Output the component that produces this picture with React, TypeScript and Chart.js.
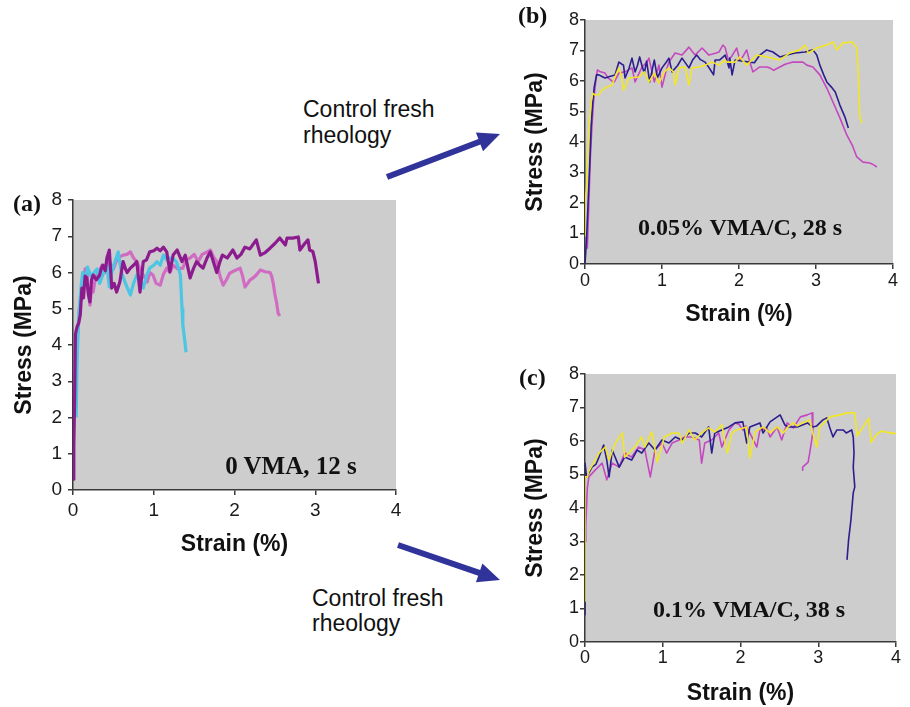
import React, { useEffect, useRef } from "react";
import { Chart, registerables } from "chart.js";
Chart.register(...registerables);

type Pt = [number, number];

// ---------- tick labels / axis titles ----------
const xTicks = [0, 1, 2, 3, 4];
const yTicks = [0, 1, 2, 3, 4, 5, 6, 7, 8];
const xTitle = "Strain (%)";
const yTitle = "Stress (MPa)";

// ---------- panel (a): 0 VMA, 12 s ----------
const aPurple: Pt[] = [
  [0.0, 0.3], [0.01, 1.2], [0.02, 2.5], [0.03, 4.3], [0.05, 4.5], [0.07, 4.6], [0.09, 4.83], [0.11, 5.57],
  [0.13, 5.3], [0.15, 5.9], [0.17, 5.85], [0.19, 5.4], [0.21, 5.19], [0.23, 5.8], [0.25, 5.93], [0.29, 5.8],
  [0.33, 5.93], [0.35, 6.1], [0.37, 6.2], [0.4, 6.05], [0.42, 6.4], [0.45, 6.62], [0.48, 5.57], [0.51, 5.7],
  [0.54, 5.46], [0.58, 5.74], [0.62, 6.3], [0.65, 6.1], [0.67, 6.0], [0.71, 6.12], [0.75, 6.2], [0.79, 6.3],
  [0.83, 5.46], [0.87, 6.3], [0.91, 6.35], [0.95, 6.57], [1.0, 6.6], [1.04, 6.67], [1.08, 6.6], [1.12, 6.7],
  [1.16, 6.57], [1.2, 6.02], [1.24, 6.48], [1.29, 6.62], [1.35, 6.3], [1.39, 6.48], [1.45, 5.85], [1.49, 6.1],
  [1.53, 6.3], [1.57, 6.2], [1.61, 6.12], [1.66, 6.4], [1.7, 6.57], [1.78, 6.0], [1.82, 6.3], [1.85, 6.48],
  [1.91, 6.4], [1.98, 6.62], [2.03, 6.4], [2.08, 6.5], [2.13, 6.7], [2.19, 6.65], [2.27, 6.9], [2.32, 6.48],
  [2.38, 6.55], [2.44, 6.67], [2.5, 6.8], [2.56, 6.95], [2.63, 6.76], [2.65, 6.95], [2.72, 6.95], [2.79, 6.98],
  [2.81, 6.62], [2.87, 6.8], [2.91, 6.9], [2.93, 6.62], [2.97, 6.58], [3.0, 6.3], [3.03, 5.85], [3.04, 5.7],
];
const aPink: Pt[] = [
  [0.03, 2.5], [0.05, 4.0], [0.08, 5.0], [0.12, 5.6], [0.15, 6.1], [0.17, 6.12], [0.19, 5.5], [0.21, 5.1],
  [0.23, 5.6], [0.25, 5.46], [0.28, 5.9], [0.32, 6.0], [0.36, 6.2], [0.4, 6.0], [0.45, 6.3], [0.5, 6.1],
  [0.55, 6.4], [0.62, 6.48], [0.67, 6.5], [0.71, 6.57], [0.75, 6.4], [0.79, 6.3], [0.85, 6.0], [0.92, 5.74],
  [0.95, 6.0], [0.99, 5.93], [1.03, 5.7], [1.08, 5.65], [1.12, 5.95], [1.16, 6.12], [1.2, 6.0], [1.24, 6.2],
  [1.3, 6.1], [1.36, 6.12], [1.4, 6.35], [1.45, 6.4], [1.5, 6.5], [1.55, 6.3], [1.6, 6.5], [1.65, 6.55],
  [1.7, 6.62], [1.74, 6.43], [1.78, 6.3], [1.82, 5.9], [1.86, 5.65], [1.9, 5.8], [1.94, 5.98], [2.0, 6.05],
  [2.07, 6.12], [2.1, 5.9], [2.13, 5.6], [2.17, 5.72], [2.19, 5.79], [2.23, 5.85], [2.27, 5.93], [2.32, 6.07],
  [2.38, 6.02], [2.44, 6.0], [2.46, 5.9], [2.48, 5.7], [2.5, 5.4], [2.52, 5.19], [2.54, 4.88], [2.56, 4.8],
];
const aCyan: Pt[] = [
  [0.04, 2.0], [0.05, 3.5], [0.07, 4.8], [0.1, 5.6], [0.12, 6.0], [0.15, 5.8], [0.18, 6.15], [0.22, 5.9],
  [0.26, 6.0], [0.3, 6.1], [0.33, 5.7], [0.38, 6.0], [0.42, 6.2], [0.45, 5.6], [0.48, 6.0], [0.52, 6.3],
  [0.56, 6.57], [0.6, 6.0], [0.65, 5.7], [0.71, 5.38], [0.75, 5.7], [0.79, 5.93], [0.83, 5.8], [0.87, 5.57],
  [0.91, 5.9], [0.95, 6.12], [1.0, 6.2], [1.04, 6.3], [1.08, 6.2], [1.12, 6.48], [1.16, 6.35], [1.2, 6.4],
  [1.24, 6.38], [1.28, 6.3], [1.31, 6.1], [1.33, 5.93], [1.35, 5.0], [1.36, 4.55], [1.38, 4.2], [1.39, 4.0],
  [1.4, 3.8],
];

// ---------- panel (b): 0.05% VMA/C, 28 s ----------
const bBlue: Pt[] = [
  [0.0, 0.0], [0.02, 0.8], [0.04, 2.0], [0.06, 3.2], [0.08, 4.5], [0.1, 5.3], [0.12, 5.8], [0.15, 6.2],
  [0.18, 6.2], [0.22, 6.15], [0.26, 6.1], [0.32, 6.15], [0.39, 6.2], [0.44, 6.62], [0.48, 6.55], [0.5, 6.52],
  [0.52, 6.1], [0.57, 6.4], [0.61, 6.75], [0.65, 6.3], [0.68, 6.5], [0.71, 6.79], [0.74, 6.5], [0.77, 6.26],
  [0.8, 6.65], [0.84, 5.97], [0.9, 6.69], [0.94, 6.1], [1.0, 6.43], [1.05, 6.6], [1.09, 6.75], [1.13, 6.3],
  [1.2, 6.5], [1.26, 6.75], [1.35, 6.43], [1.4, 6.7], [1.45, 6.85], [1.5, 6.7], [1.56, 6.62], [1.62, 6.4],
  [1.67, 6.2], [1.69, 6.69], [1.75, 6.69], [1.82, 6.85], [1.87, 6.43], [1.88, 6.75], [1.91, 6.2], [1.95, 6.69],
  [2.05, 6.65], [2.14, 6.62], [2.2, 6.6], [2.27, 6.85], [2.36, 7.02], [2.44, 6.95], [2.53, 6.79], [2.62, 6.85],
  [2.73, 6.92], [2.86, 6.95], [2.96, 7.02], [3.01, 6.85], [3.05, 6.52], [3.1, 6.2], [3.14, 5.97], [3.2, 5.8],
  [3.25, 5.64], [3.31, 5.21], [3.38, 4.79], [3.42, 4.46],
];
const bMagenta: Pt[] = [
  [0.03, 0.5], [0.05, 2.0], [0.07, 3.5], [0.09, 4.5], [0.11, 5.3], [0.14, 6.0], [0.16, 6.36], [0.2, 6.3],
  [0.26, 6.26], [0.3, 6.1], [0.35, 6.0], [0.38, 5.97], [0.44, 6.26], [0.52, 6.3], [0.61, 6.43], [0.65, 5.97],
  [0.74, 6.46], [0.8, 6.6], [0.83, 6.75], [0.9, 5.97], [0.96, 6.52], [1.0, 5.8], [1.05, 6.3], [1.09, 6.62],
  [1.17, 6.92], [1.26, 6.85], [1.35, 7.11], [1.43, 6.85], [1.52, 7.08], [1.61, 6.85], [1.68, 6.9], [1.74, 6.95],
  [1.79, 7.18], [1.82, 7.1], [1.86, 6.69], [1.9, 6.79], [1.97, 7.08], [2.01, 6.69], [2.05, 6.8], [2.1, 7.02],
  [2.14, 6.62], [2.18, 6.3], [2.27, 6.46], [2.36, 6.46], [2.4, 6.43], [2.45, 6.35], [2.53, 6.46], [2.6, 6.55],
  [2.7, 6.62], [2.83, 6.62], [2.88, 6.52], [2.96, 6.46], [3.05, 6.2], [3.14, 5.77], [3.22, 5.31], [3.31, 4.79],
  [3.4, 4.23], [3.47, 3.9], [3.53, 3.51], [3.61, 3.34], [3.7, 3.31], [3.75, 3.25], [3.79, 3.18],
];
const bYellow: Pt[] = [
  [0.0, 0.9], [0.0, 2.0], [0.02, 2.5], [0.05, 4.5], [0.08, 5.3], [0.1, 5.6], [0.13, 5.54], [0.18, 5.55],
  [0.22, 5.7], [0.26, 5.77], [0.35, 5.87], [0.4, 6.2], [0.44, 6.43], [0.47, 6.2], [0.5, 5.7], [0.57, 6.1],
  [0.7, 6.13], [0.77, 6.3], [0.83, 5.97], [0.9, 6.26], [0.96, 5.93], [1.03, 6.3], [1.09, 6.43], [1.15, 6.3],
  [1.17, 5.87], [1.22, 6.43], [1.3, 6.46], [1.35, 5.87], [1.39, 6.43], [1.48, 6.46], [1.56, 6.52], [1.65, 6.62],
  [1.74, 6.52], [1.82, 6.69], [1.84, 6.62], [1.95, 6.62], [2.01, 6.79], [2.1, 6.52], [2.23, 6.85], [2.36, 6.79],
  [2.53, 6.69], [2.66, 6.92], [2.79, 7.02], [2.86, 7.18], [2.9, 6.92], [3.01, 7.08], [3.14, 7.18], [3.22, 7.28],
  [3.27, 7.02], [3.35, 7.25], [3.47, 7.28], [3.53, 7.08], [3.55, 6.2], [3.57, 4.79], [3.6, 4.62],
];

// ---------- panel (c): 0.1% VMA/C, 38 s ----------
const cBlue: Pt[] = [
  [0.0, 0.8], [0.0, 5.34], [0.02, 4.93], [0.04, 5.0], [0.09, 5.22], [0.14, 5.3], [0.18, 5.52], [0.24, 5.88],
  [0.28, 5.43], [0.31, 4.93], [0.35, 5.73], [0.44, 5.22], [0.51, 5.52], [0.6, 5.43], [0.67, 5.73], [0.73, 5.64],
  [0.82, 5.94], [0.9, 5.73], [0.99, 6.03], [1.08, 5.94], [1.16, 6.12], [1.25, 6.03], [1.34, 6.24], [1.42, 6.24],
  [1.5, 6.12], [1.59, 6.42], [1.63, 5.64], [1.67, 6.24], [1.76, 6.33], [1.85, 6.42], [1.93, 6.54], [2.03, 6.57],
  [2.08, 5.94], [2.12, 6.42], [2.25, 6.54], [2.29, 6.24], [2.38, 6.57], [2.51, 6.78], [2.57, 6.48], [2.62, 6.42],
  [2.73, 6.42], [2.86, 6.54], [2.93, 6.42], [2.98, 6.45], [3.06, 6.63], [3.11, 6.69], [3.15, 6.39], [3.19, 6.12],
  [3.24, 6.33], [3.32, 6.33], [3.36, 6.24], [3.43, 6.33], [3.45, 6.12], [3.46, 5.64], [3.45, 5.22], [3.47, 4.63],
  [3.45, 4.45], [3.42, 3.64], [3.39, 3.04], [3.37, 2.45],
];
const cMagenta: Pt[] = [
  [0.0, 3.0], [0.01, 3.5], [0.03, 4.6], [0.05, 4.93], [0.13, 5.13], [0.22, 5.34], [0.28, 4.84], [0.35, 5.34],
  [0.44, 5.22], [0.51, 5.64], [0.6, 5.52], [0.69, 5.82], [0.77, 5.73], [0.84, 4.93], [0.9, 5.73], [0.99, 5.94],
  [1.05, 5.64], [1.12, 5.94], [1.21, 6.03], [1.29, 6.12], [1.38, 6.12], [1.47, 6.03], [1.5, 5.34], [1.54, 5.94],
  [1.63, 6.03], [1.72, 6.24], [1.76, 5.82], [1.85, 6.33], [1.93, 6.54], [1.98, 6.5], [2.03, 6.33], [2.07, 6.45],
  [2.12, 6.24], [2.21, 5.82], [2.25, 6.33], [2.34, 6.39], [2.38, 6.12], [2.47, 6.42], [2.53, 6.03], [2.6, 6.54],
  [2.68, 6.39], [2.77, 6.72], [2.86, 6.78], [2.92, 6.84], [2.93, 6.24], [2.89, 5.64], [2.87, 5.37], [2.8, 5.22],
  [2.8, 5.13],
];
const cYellow: Pt[] = [
  [0.0, 1.2], [0.0, 4.93], [0.03, 4.93], [0.05, 5.1], [0.1, 5.3], [0.18, 5.64], [0.26, 5.82], [0.31, 5.43],
  [0.39, 5.94], [0.48, 6.24], [0.51, 5.52], [0.64, 5.82], [0.73, 6.12], [0.77, 5.82], [0.86, 6.27], [0.93, 5.37],
  [1.02, 6.12], [1.12, 6.24], [1.21, 6.24], [1.25, 5.94], [1.34, 6.33], [1.41, 6.03], [1.5, 6.24], [1.59, 6.39],
  [1.67, 6.27], [1.76, 6.48], [1.83, 5.64], [1.89, 6.24], [1.95, 6.33], [2.08, 6.42], [2.12, 5.49], [2.19, 6.27],
  [2.29, 6.42], [2.38, 6.24], [2.47, 6.42], [2.55, 6.24], [2.61, 6.42], [2.68, 6.54], [2.73, 6.45], [2.8, 6.54],
  [2.89, 6.63], [2.93, 6.24], [2.98, 5.82], [3.02, 6.42], [3.15, 6.72], [3.28, 6.78], [3.37, 6.84], [3.47, 6.84],
  [3.5, 6.15], [3.6, 6.5], [3.65, 6.68], [3.68, 5.95], [3.75, 6.2], [3.82, 6.3], [3.9, 6.25], [4.0, 6.22],
];

const SANS = "'Liberation Sans', Arial, Helvetica, sans-serif";
const SERIF = "'Liberation Serif', 'Times New Roman', serif";
const PLOT_BG = "#CDCDCD";
const AXIS = "#3a3a3a";
const ARROW = "#30339A";

type Series = { pts: Pt[]; color: string };
type PanelProps = {
  left: number; top: number; width: number; height: number;
  padTop: number; padRight: number; yAxisW: number; xAxisH: number;
  tickSize: number; yTickPad: number; xTickPad: number;
  yTitlePad: number; xTitlePad: number; lineWidth: number;
  series: Series[];
};

const bgPlugin = {
  id: "plotBg",
  beforeDraw(chart: any) {
    const { ctx, chartArea } = chart;
    if (!chartArea) return;
    ctx.save();
    ctx.fillStyle = PLOT_BG;
    ctx.fillRect(chartArea.left, chartArea.top, chartArea.right - chartArea.left, chartArea.bottom - chartArea.top);
    ctx.restore();
  },
};

function Panel(p: PanelProps) {
  const ref = useRef<HTMLCanvasElement>(null);
  useEffect(() => {
    const titleFont = { family: SANS, size: 23, weight: "bold" as const };
    const tickFont = { family: SANS, size: p.tickSize };
    const chart = new Chart(ref.current as HTMLCanvasElement, {
      type: "scatter",
      data: {
        datasets: p.series.map((s) => ({
          data: s.pts.map(([x, y]) => ({ x, y })),
          borderColor: s.color,
          backgroundColor: s.color,
          borderWidth: p.lineWidth,
          showLine: true,
          pointRadius: 0,
          pointHoverRadius: 0,
          fill: false,
          tension: 0,
          borderJoinStyle: "round" as const,
        })),
      },
      options: {
        responsive: false,
        maintainAspectRatio: false,
        animation: false,
        devicePixelRatio: 1,
        layout: { padding: { top: p.padTop, right: p.padRight, left: 0, bottom: 0 } },
        plugins: { legend: { display: false }, tooltip: { enabled: false } },
        scales: {
          x: {
            type: "linear",
            min: xTicks[0],
            max: xTicks[xTicks.length - 1],
            afterBuildTicks: (s: any) => { s.ticks = xTicks.map((v) => ({ value: v })); },
            afterFit: (s: any) => { s.height = p.xAxisH; },
            ticks: { font: tickFont, color: "#1a1a1a", padding: p.xTickPad, maxRotation: 0, callback: (v: any) => String(v) },
            grid: { display: true, drawOnChartArea: false, drawTicks: true, tickLength: 5, color: AXIS, lineWidth: 1.5 },
            border: { display: true, color: AXIS, width: 1.5 },
            title: { display: true, text: xTitle, font: titleFont, color: "#111", padding: { top: 0, bottom: p.xTitlePad } },
          },
          y: {
            type: "linear",
            min: yTicks[0],
            max: yTicks[yTicks.length - 1],
            afterBuildTicks: (s: any) => { s.ticks = yTicks.map((v) => ({ value: v })); },
            afterFit: (s: any) => { s.width = p.yAxisW; },
            ticks: { font: tickFont, color: "#1a1a1a", padding: p.yTickPad, callback: (v: any) => String(v) },
            grid: { display: true, drawOnChartArea: false, drawTicks: true, tickLength: 5, color: AXIS, lineWidth: 1.5 },
            border: { display: true, color: AXIS, width: 1.5 },
            title: { display: true, text: yTitle, font: titleFont, color: "#111", padding: { top: p.yTitlePad, bottom: 0 } },
          },
        },
      },
      plugins: [bgPlugin],
    } as any);
    return () => chart.destroy();
  }, []);
  return (
    <canvas
      ref={ref}
      width={p.width}
      height={p.height}
      style={{ position: "absolute", left: p.left, top: p.top, width: p.width, height: p.height }}
    />
  );
}

function arrowPoly(x1: number, y1: number, x2: number, y2: number, sh: number, hl: number, hh: number) {
  const dx = x2 - x1, dy = y2 - y1;
  const len = Math.hypot(dx, dy);
  const ux = dx / len, uy = dy / len;
  const nx = -uy, ny = ux;
  const bx = x2 - ux * hl, by = y2 - uy * hl;
  const pts = [
    [x1 + nx * sh, y1 + ny * sh],
    [bx + nx * sh, by + ny * sh],
    [bx + nx * hh, by + ny * hh],
    [x2, y2],
    [bx - nx * hh, by - ny * hh],
    [bx - nx * sh, by - ny * sh],
    [x1 - nx * sh, y1 - ny * sh],
  ];
  return pts.map(([a, b]) => `${a.toFixed(1)},${b.toFixed(1)}`).join(" ");
}

const serifLabel = (text: string, left: number, cy: number, size: number): React.ReactElement => (
  <div style={{ position: "absolute", left, top: cy, transform: "translateY(-50%)", fontFamily: SERIF, fontWeight: "bold", fontSize: size, lineHeight: 1, color: "#111", whiteSpace: "nowrap" }}>{text}</div>
);
const centeredSerif = (text: string, cx: number, cy: number, size: number): React.ReactElement => (
  <div style={{ position: "absolute", left: cx, top: cy, transform: "translate(-50%, -50%)", fontFamily: SERIF, fontWeight: "bold", fontSize: size, lineHeight: 1, color: "#111", whiteSpace: "nowrap" }}>{text}</div>
);

export default function App() {
  return (
    <div style={{ position: "absolute", left: 0, top: 0, width: 910, height: 707, background: "#fff", overflow: "hidden" }}>
      <Panel
        left={0} top={180} width={410} height={390}
        padTop={20} padRight={14} yAxisW={73} xAxisH={80}
        tickSize={19} yTickPad={6} xTickPad={4}
        yTitlePad={10.5} xTitlePad={12} lineWidth={3.2}
        series={[
          { pts: aPurple, color: "#8C1C8E" },
          { pts: aCyan, color: "#4CC6E2" },
          { pts: aPink, color: "#D06CC2" },
        ]}
      />
      <Panel
        left={520} top={0} width={385} height={330}
        padTop={20} padRight={12} yAxisW={65} xAxisH={66}
        tickSize={18} yTickPad={1} xTickPad={1}
        yTitlePad={1.5} xTitlePad={2} lineWidth={1.6}
        series={[
          { pts: bYellow, color: "#F2E626" },
          { pts: bBlue, color: "#2C1E8E" },
          { pts: bMagenta, color: "#C448C0" },
        ]}
      />
      <Panel
        left={520} top={360} width={385} height={347}
        padTop={14} padRight={9} yAxisW={65} xAxisH={65}
        tickSize={18} yTickPad={1} xTickPad={0}
        yTitlePad={1.5} xTitlePad={0} lineWidth={1.6}
        series={[
          { pts: cYellow, color: "#F2E626" },
          { pts: cBlue, color: "#2C1E8E" },
          { pts: cMagenta, color: "#C448C0" },
        ]}
      />

      {serifLabel("(a)", 13, 203, 24)}
      {serifLabel("(b)", 518, 14.5, 24)}
      {serifLabel("(c)", 519, 376.5, 24)}

      {centeredSerif("0 VMA, 12 s", 291, 465, 25)}
      {centeredSerif("0.05% VMA/C, 28 s", 740, 227, 24)}
      {centeredSerif("0.1% VMA/C, 38 s", 749, 608.5, 24)}

      <div style={{ position: "absolute", left: 303, top: 96, fontFamily: SANS, fontSize: 23, lineHeight: "26px", color: "#111", whiteSpace: "nowrap" }}>
        Control fresh<br />rheology
      </div>
      <div style={{ position: "absolute", left: 312, top: 586, fontFamily: SANS, fontSize: 23, lineHeight: "25px", color: "#111", whiteSpace: "nowrap" }}>
        Control fresh<br />rheology
      </div>

      <svg width={910} height={707} style={{ position: "absolute", left: 0, top: 0, pointerEvents: "none" }}>
        <polygon points={arrowPoly(387, 177, 500, 134, 3, 22, 10)} fill={ARROW} />
        <polygon points={arrowPoly(398, 545, 500, 580, 3, 22, 10)} fill={ARROW} />
      </svg>
    </div>
  );
}
